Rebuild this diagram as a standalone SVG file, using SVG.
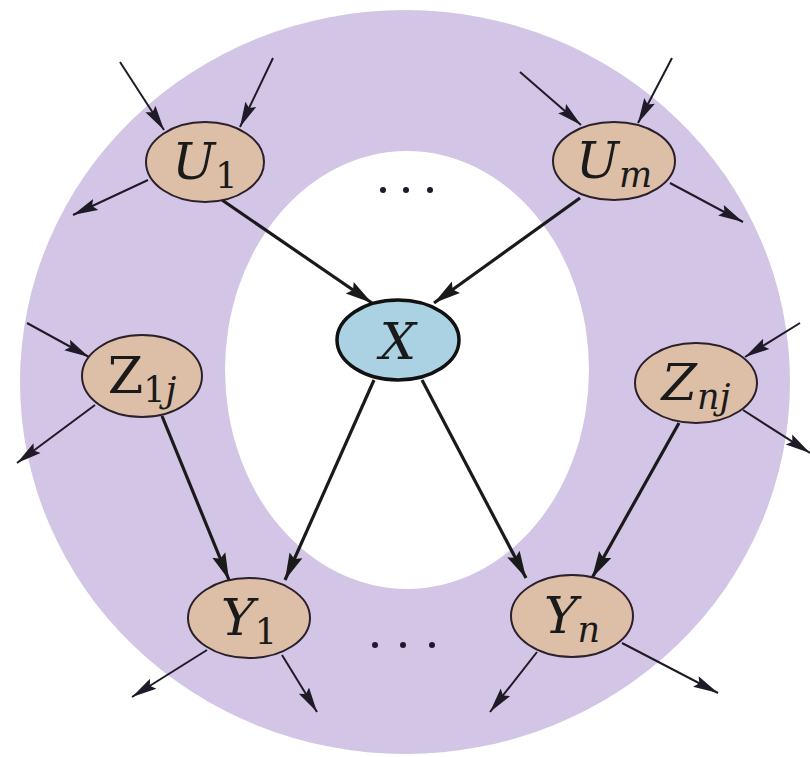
<svg xmlns="http://www.w3.org/2000/svg" width="810" height="757" viewBox="0 0 810 757">
<defs>
<style>
.node{fill:#dcbfa6;stroke:#2a1f2a;stroke-width:2}
.xnode{fill:#aad2e2;stroke:#111;stroke-width:3.5}
.thin{stroke:#1e1a28;stroke-width:2;fill:none;marker-end:url(#ah)}
.thick{stroke:#1a1a1a;stroke-width:3.2;fill:none;marker-end:url(#ahb)}
.dot{fill:#1e1a2e}
</style>
<marker id="ah" markerUnits="userSpaceOnUse" markerWidth="26" markerHeight="14" viewBox="0 0 26 14" refX="25" refY="7" orient="auto">
<path d="M0,1 L25,7 L0,13 L4,7 Z" fill="#1e1a28"/>
</marker>
<marker id="ahb" markerUnits="userSpaceOnUse" markerWidth="28" markerHeight="16" viewBox="0 0 28 16" refX="27" refY="8" orient="auto">
<path d="M0,1 L27,8 L0,15 L4,8 Z" fill="#1a1a1a"/>
</marker>
</defs>
<rect width="810" height="757" fill="#ffffff"/>
<g id="ring">
<path fill="#d3c5e5" fill-rule="evenodd" d="M20,382 A385,372 0 1,0 790,382 A385,372 0 1,0 20,382 Z M225,370 A182,219 0 1,0 589,370 A182,219 0 1,0 225,370 Z"/>
</g>
<g id="connectors">
<line class="thin" x1="120" y1="62" x2="164" y2="130"/>
<line class="thin" x1="273" y1="58" x2="240" y2="127"/>
<line class="thin" x1="148" y1="180" x2="73" y2="215"/>
<line class="thin" x1="520" y1="72" x2="581" y2="125"/>
<line class="thin" x1="672" y1="58" x2="638" y2="123"/>
<line class="thin" x1="670" y1="183" x2="743" y2="222"/>
<line class="thin" x1="27" y1="323" x2="89" y2="357"/>
<line class="thin" x1="95" y1="405" x2="17" y2="463"/>
<line class="thin" x1="800" y1="323" x2="745" y2="357"/>
<line class="thin" x1="743" y1="410" x2="810" y2="453"/>
<line class="thin" x1="207" y1="650" x2="132" y2="697"/>
<line class="thin" x1="282" y1="655" x2="317" y2="712"/>
<line class="thin" x1="537" y1="652" x2="490" y2="712"/>
<line class="thin" x1="622" y1="643" x2="718" y2="693"/>
<line class="thick" x1="222" y1="200" x2="372" y2="303"/>
<line class="thick" x1="580" y1="198" x2="434" y2="303"/>
<line class="thick" x1="162" y1="416" x2="229" y2="580"/>
<line class="thick" x1="679" y1="423" x2="592" y2="578"/>
<line class="thick" x1="374" y1="380" x2="285" y2="580"/>
<line class="thick" x1="422" y1="380" x2="526" y2="578"/>
</g>
<g id="dots-top">
<circle class="dot" cx="383" cy="190" r="3"/>
<circle class="dot" cx="406" cy="190" r="3"/>
<circle class="dot" cx="430" cy="190" r="3"/>
</g>
<g id="dots-bottom">
<circle class="dot" cx="375" cy="645" r="3"/>
<circle class="dot" cx="403" cy="645" r="3"/>
<circle class="dot" cx="432" cy="645" r="3"/>
</g>
<g font-family="'DejaVu Serif', serif" font-size="51" fill="#1a1a1a" text-anchor="middle">
<g id="U1">
<ellipse class="node" cx="205" cy="162" rx="59" ry="40"/>
<text x="205" y="179"><tspan font-style="italic">U</tspan><tspan font-size="35" dy="9">1</tspan></text>
</g>
<g id="Um">
<ellipse class="node" cx="614" cy="161" rx="61" ry="39"/>
<text x="614" y="178"><tspan font-style="italic">U</tspan><tspan font-size="35" font-style="italic" dy="9">m</tspan></text>
</g>
<g id="Z1j">
<ellipse class="node" cx="142" cy="376" rx="60" ry="41"/>
<text x="142" y="393"><tspan>Z</tspan><tspan font-size="35" dy="9">1</tspan><tspan font-size="35" font-style="italic">j</tspan></text>
</g>
<g id="Znj">
<ellipse class="node" cx="696" cy="383" rx="61" ry="40"/>
<text x="696" y="400"><tspan font-style="italic">Z</tspan><tspan font-size="35" font-style="italic" dy="9">nj</tspan></text>
</g>
<g id="X">
<ellipse class="xnode" cx="398" cy="340" rx="61" ry="40"/>
<text x="398" y="359" font-style="italic">X</text>
</g>
<g id="Y1">
<ellipse class="node" cx="249" cy="618" rx="61" ry="40"/>
<text x="249" y="635"><tspan font-style="italic">Y</tspan><tspan font-size="35" dy="9">1</tspan></text>
</g>
<g id="Yn">
<ellipse class="node" cx="572" cy="616" rx="61" ry="41"/>
<text x="572" y="633"><tspan font-style="italic">Y</tspan><tspan font-size="35" font-style="italic" dy="9">n</tspan></text>
</g>
</g>
</svg>
